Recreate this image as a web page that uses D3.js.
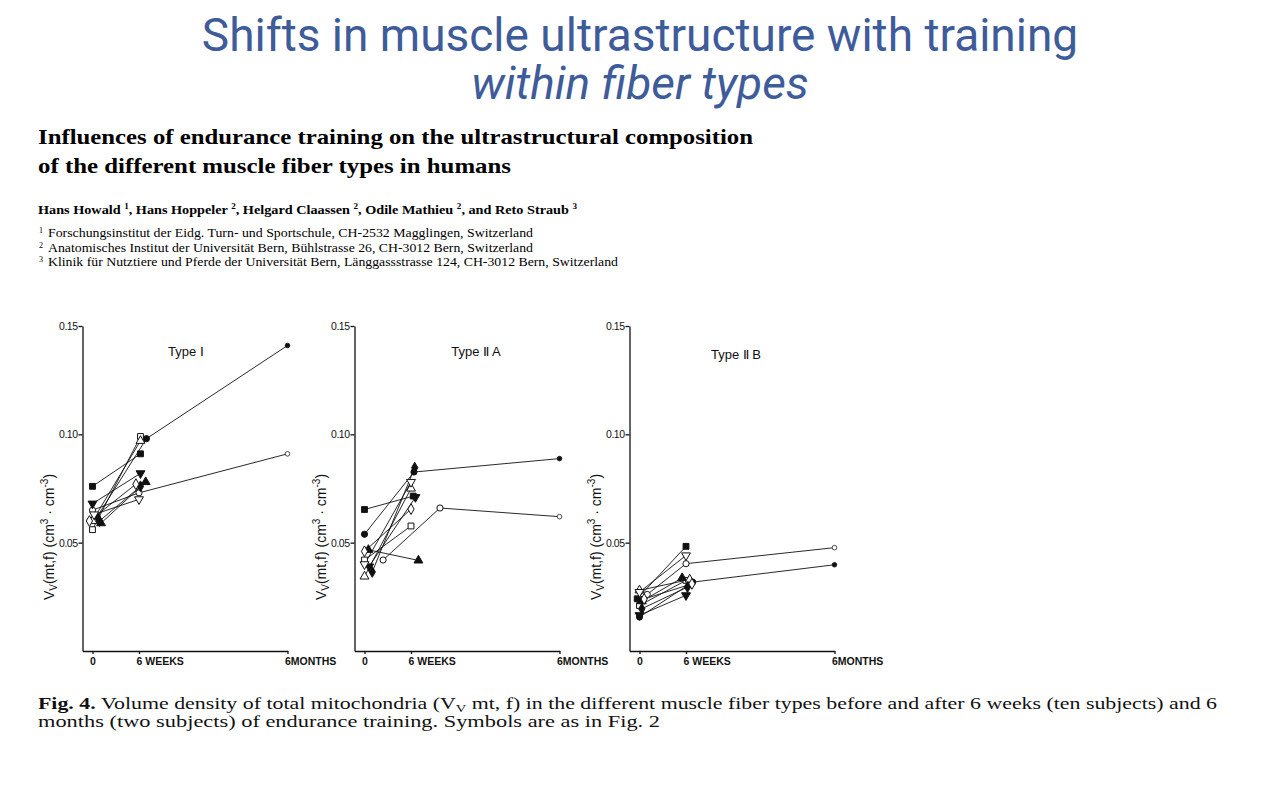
<!DOCTYPE html>
<html>
<head>
<meta charset="utf-8">
<script src="https://cdn.jsdelivr.net/npm/d3@7"></script>
<style>
  body { margin: 0; background: #fff; }
</style>
</head>
<body>
<script>
// panels and axis ticks
var panelTitles = ["Type \u2160", "Type \u2161 A", "Type \u2161 B"];
var xTicks = [0, 6, 26];                       // weeks (6 months ~ 26 weeks)
var xTickLabels = ["0", "6 WEEKS", "6MONTHS"];
var yTicks = [0.05, 0.10, 0.15];

// ten subjects, symbols as in the paper (subjects 1 and 2 followed for 6 months)
var subjectSymbols = ["circle", "circle", "square", "square", "triUp", "triUp", "triDown", "triDown", "diamond", "diamond"];
var subjectFilled  = [true, false, true, false, true, false, true, false, true, false];

// Type I
var typeI_week0  = [0.062, 0.065, 0.076, 0.056, 0.059, 0.060, 0.068, 0.063, 0.060, 0.060];
var typeI_week6  = [0.098, 0.073, 0.091, 0.099, 0.078, 0.097, 0.082, 0.070, 0.076, 0.077];
var typeI_month6 = [0.141, 0.091];
var typeI_at0    = [0.6, 0, 0, 0, 1.1, 0, 0, 0.2, 0.9, -0.4];   // plotted week (offset in print)
var typeI_at6    = [7.0, 6.0, 6.2, 6.2, 6.9, 6.2, 6.2, 6.0, 6.2, 5.6];

// Type IIA
var typeIIA_week0  = [0.0539, 0.042, 0.0653, 0.042, 0.0467, 0.0344, 0.039, 0.040, 0.0365, 0.046];
var typeIIA_week6  = [0.0826, 0.066, 0.0715, 0.0577, 0.0418, 0.075, 0.071, 0.078, 0.0846, 0.0655];
var typeIIA_month6 = [0.0888, 0.062];
var typeIIA_at0    = [0, 2.4, 0, 0, 0.5, 0, 0.6, 0, 1.0, 0];
var typeIIA_at6    = [6.4, 9.9, 6.3, 6.0, 7.0, 6.0, 6.6, 6.0, 6.5, 6.0];

// Type IIB
var typeIIB_week0  = [0.0157, 0.0261, 0.0241, 0.021, 0.023, 0.028, 0.0165, 0.0272, 0.0195, 0.024];
var typeIIB_week6  = [0.0318, 0.0403, 0.0483, 0.0326, 0.0337, 0.033, 0.0257, 0.0441, 0.0295, 0.031];
var typeIIB_month6 = [0.0398, 0.0477];
var typeIIB_at0    = [0, 1.0, -0.3, 0, 0.3, 0, 0, 0, 0.3, 0.6];
var typeIIB_at6    = [6.9, 6.0, 6.0, 6.0, 5.5, 6.5, 6.0, 6.0, 6.2, 6.8];

var panelData = [
  { w0: typeI_week0, w6: typeI_week6, m6: typeI_month6, x0: typeI_at0, x6: typeI_at6 },
  { w0: typeIIA_week0, w6: typeIIA_week6, m6: typeIIA_month6, x0: typeIIA_at0, x6: typeIIA_at6 },
  { w0: typeIIB_week0, w6: typeIIB_week6, m6: typeIIB_month6, x0: typeIIB_at0, x6: typeIIB_at6 }
];

var svg = d3.select("body").append("svg")
    .attr("width", 1280)
    .attr("height", 800);

// slide title
var blue = "#3e5b9a";
svg.append("text")
    .attr("x", 640).attr("y", 51)
    .attr("text-anchor", "middle")
    .attr("font-family", "Roboto")
    .attr("font-size", 46)
    .attr("fill", blue)
    .text("Shifts in muscle ultrastructure with training");
svg.append("text")
    .attr("x", 640).attr("y", 99)
    .attr("text-anchor", "middle")
    .attr("font-family", "Roboto")
    .attr("font-style", "italic")
    .attr("font-size", 46)
    .attr("fill", blue)
    .text("within fiber types");

// paper header
var serif = "'Liberation Serif', 'Times New Roman', serif";
svg.append("text")
    .attr("x", 38).attr("y", 144)
    .attr("font-family", serif).attr("font-weight", "bold").attr("font-size", 21)
    .attr("textLength", 715).attr("lengthAdjust", "spacingAndGlyphs")
    .text("Influences of endurance training on the ultrastructural composition");
svg.append("text")
    .attr("x", 38).attr("y", 173)
    .attr("font-family", serif).attr("font-weight", "bold").attr("font-size", 21)
    .attr("textLength", 473).attr("lengthAdjust", "spacingAndGlyphs")
    .text("of the different muscle fiber types in humans");

var authors = [["Hans Howald ", "1"], [", Hans Hoppeler ", "2"], [", Helgard Claassen ", "2"],
               [", Odile Mathieu ", "2"], [", and Reto Straub ", "3"]];
var aText = svg.append("text")
    .attr("x", 38).attr("y", 214)
    .attr("font-family", serif).attr("font-weight", "bold").attr("font-size", 12.5)
    .attr("textLength", 539).attr("lengthAdjust", "spacingAndGlyphs");
authors.forEach(function(a, i) {
    aText.append("tspan").attr("dy", i === 0 ? 0 : 5).text(a[0]);
    aText.append("tspan").attr("font-size", 8).attr("dy", -5).text(a[1]);
});

var affiliations = [
  "Forschungsinstitut der Eidg. Turn- und Sportschule, CH-2532 Magglingen, Switzerland",
  "Anatomisches Institut der Universit\u00e4t Bern, B\u00fchlstrasse 26, CH-3012 Bern, Switzerland",
  "Klinik f\u00fcr Nutztiere und Pferde der Universit\u00e4t Bern, L\u00e4nggassstrasse 124, CH-3012 Bern, Switzerland"
];
var affWidths = [485, 485, 570];
affiliations.forEach(function(t, i) {
    var yy = 237 + i * 14.5;
    svg.append("text")
        .attr("x", 39).attr("y", yy - 4)
        .attr("font-family", serif).attr("font-size", 8)
        .text(i + 1);
    svg.append("text")
        .attr("x", 48).attr("y", yy)
        .attr("font-family", serif).attr("font-size", 12)
        .attr("textLength", affWidths[i]).attr("lengthAdjust", "spacingAndGlyphs")
        .text(t);
});

// the three panels
var sans = "'Liberation Sans', Arial, sans-serif";
var axisLeftX = [82.5, 354.5, 629.5];
var titleX = [186, 476, 736];
var titleY = [356, 356, 359];

var y = d3.scaleLinear().domain([0, 0.15]).range([651, 326]);

function symbolPath(name) {
    var s;
    if (name === "circle") s = d3.symbol(d3.symbolCircle, 30);
    else if (name === "square") s = d3.symbol(d3.symbolSquare, 34);
    else if (name === "diamond") s = d3.symbol(d3.symbolDiamond, 34);
    else s = d3.symbol(d3.symbolTriangle, 34);
    return s();
}

panelData.forEach(function(p, k) {
    var ax = axisLeftX[k];
    var x = d3.scaleLinear()
        .domain([-1.3, 0, 6, 26])
        .range([ax, ax + 10, ax + 56.5, ax + 205]);

    var g = svg.append("g");

    // axes
    var xAxis = d3.axisBottom(x)
        .tickValues(xTicks)
        .tickFormat(function(d, i) { return xTickLabels[i]; })
        .tickSizeInner(3)
        .tickSizeOuter(0)
        .tickPadding(4);
    var gx = g.append("g")
        .attr("transform", "translate(0," + y(0) + ")")
        .call(xAxis);
    gx.selectAll("text")
        .attr("font-family", sans)
        .attr("font-size", 10.5)
        .attr("font-weight", "bold")
        .attr("fill", "#111")
        .style("text-anchor", function(d) { return d === 0 ? "middle" : "start"; })
        .attr("dx", function(d) { return d === 0 ? 0 : -3; });

    var yAxis = d3.axisLeft(y)
        .tickValues(yTicks)
        .tickFormat(d3.format(".2f"))
        .tickSizeInner(4)
        .tickSizeOuter(0)
        .tickPadding(1);
    var gy = g.append("g")
        .attr("transform", "translate(" + ax + ",0)")
        .call(yAxis);
    gy.selectAll("text")
        .attr("font-family", sans)
        .attr("font-size", 10.5)
        .attr("letter-spacing", -0.5)
        .attr("fill", "#111");

    g.selectAll(".domain, .tick line")
        .attr("stroke", "#111")
        .attr("stroke-width", 1.3);

    // axis label
    var lab = g.append("text")
        .attr("transform", "translate(" + (ax - 29) + ",537) rotate(-90)")
        .attr("text-anchor", "middle")
        .attr("font-family", sans)
        .attr("font-size", 14)
        .attr("fill", "#111");
    lab.append("tspan").text("V");
    lab.append("tspan").attr("font-size", 10).attr("dy", 3).text("V");
    lab.append("tspan").attr("dy", -3).text("(mt,f) (cm");
    lab.append("tspan").attr("font-size", 10).attr("dy", -6).text("3");
    lab.append("tspan").attr("dy", 6).text(" \u00b7 cm");
    lab.append("tspan").attr("font-size", 10).attr("dy", -6).text("-3");
    lab.append("tspan").attr("dy", 6).text(")");

    // panel title
    g.append("text")
        .attr("x", titleX[k]).attr("y", titleY[k])
        .attr("text-anchor", "middle")
        .attr("font-family", sans)
        .attr("font-size", 13)
        .attr("fill", "#111")
        .text(panelTitles[k]);

    // lines per subject
    var line = d3.line().x(function(d) { return x(d[0]); }).y(function(d) { return y(d[1]); });
    var subjects = p.w0.map(function(v, i) {
        var pts = [[p.x0[i], v], [p.x6[i], p.w6[i]]];
        if (i < p.m6.length) pts.push([26, p.m6[i]]);
        return pts;
    });

    g.selectAll("path.subj")
        .data(subjects)
        .enter()
        .append("path")
        .attr("class", "subj")
        .attr("d", line)
        .attr("fill", "none")
        .attr("stroke", "#111")
        .attr("stroke-width", 0.9);

    var pts = [];
    subjects.forEach(function(s, i) {
        s.forEach(function(pt, j) {
            pts.push({ x: pt[0], v: pt[1], i: i, last: j === 2 });
        });
    });

    g.selectAll("path.pt")
        .data(pts)
        .enter()
        .append("path")
        .attr("class", "pt")
        .attr("d", function(d) { return symbolPath(d.last ? "circle" : subjectSymbols[d.i]); })
        .attr("transform", function(d) {
            var r = subjectSymbols[d.i] === "triDown" && !d.last ? " rotate(180)" : "";
            var sc = d.last ? " scale(0.75)" : "";
            return "translate(" + x(d.x) + "," + y(d.v) + ")" + r + sc;
        })
        .attr("fill", function(d) { return subjectFilled[d.i] ? "#111" : "#fff"; })
        .attr("stroke", "#111")
        .attr("stroke-width", 1);
});

// figure caption
var cap1 = svg.append("text")
    .attr("x", 38).attr("y", 709)
    .attr("font-family", serif).attr("font-size", 16.5).attr("fill", "#111")
    .attr("textLength", 1179).attr("lengthAdjust", "spacingAndGlyphs");
cap1.append("tspan").attr("font-weight", "bold").text("Fig. 4. ");
cap1.append("tspan").text("Volume density of total mitochondria (V");
cap1.append("tspan").attr("font-size", 11).attr("dy", 3).text("V");
cap1.append("tspan").attr("dy", -3).text(" mt, f) in the different muscle fiber types before and after 6 weeks (ten subjects) and 6");

svg.append("text")
    .attr("x", 38).attr("y", 727)
    .attr("font-family", serif).attr("font-size", 16.5).attr("fill", "#111")
    .attr("textLength", 622).attr("lengthAdjust", "spacingAndGlyphs")
    .text("months (two subjects) of endurance training. Symbols are as in Fig. 2");
</script>
</body>
</html>
